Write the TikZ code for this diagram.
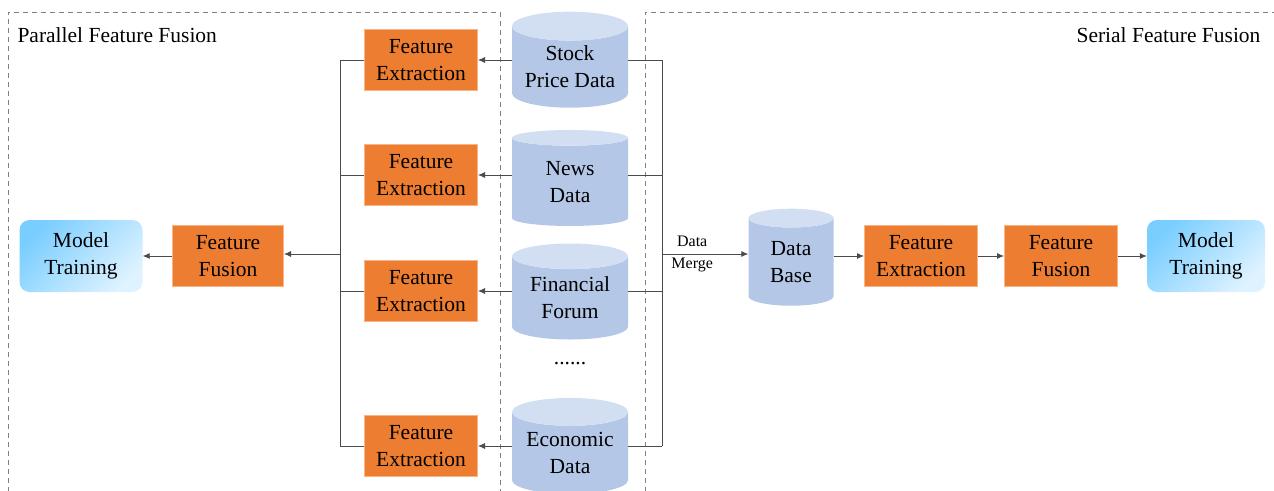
\documentclass[tikz,border=0pt]{standalone}
\usepackage{fontspec}
\setmainfont{Liberation Serif}
\newfontfamily\diagfont{Liberation Serif}
\usetikzlibrary{shapes.geometric,arrows.meta}

\definecolor{boxorange}{RGB}{237,125,49}
\definecolor{edgeorange}{RGB}{248,180,135}
\definecolor{cylbody}{RGB}{180,199,231}
\definecolor{cyltop}{RGB}{210,222,241}
\definecolor{mtdark}{RGB}{122,206,255}
\definecolor{mtlight}{RGB}{222,242,255}
\definecolor{linegray}{RGB}{75,75,75}

\tikzset{
  febox/.style={draw=edgeorange, fill=boxorange, line width=1pt, minimum width=113pt, minimum height=61pt, align=center, inner sep=0pt},
  datacyl/.style={cylinder, shape border rotate=90, aspect=0.32, cylinder uses custom fill, cylinder body fill=cylbody, cylinder end fill=cyltop, minimum width=116pt, minimum height=96pt, align=center, inner sep=0pt},
  mtbox/.style={rounded corners=10pt, top color=mtdark, bottom color=mtlight, shading angle=45, minimum width=120pt, minimum height=72pt, align=center},
  conn/.style={draw=linegray, line width=0.8pt},
  arr/.style={conn, -{Latex[length=7pt,width=6pt]}},
  region/.style={draw=gray, line width=0.8pt, dash pattern=on 5pt off 4pt},
  mlabel/.style={font=\diagfont\fontsize{16}{22}\selectfont, align=center, inner sep=0pt},
}

\begin{document}
\begin{tikzpicture}[x=1pt, y=-1pt, every node/.style={font=\diagfont\fontsize{21.5}{27}\selectfont}]
\useasboundingbox (0,0) rectangle (1274,490);

\draw[region] (8,492) -- (8,12) -- (500,12) -- (500,492);
\draw[region] (645,492) -- (645,12) -- (1276,12);
\node[anchor=west] (ptitle) at (14,35) {Parallel Feature Fusion};
\node[anchor=east] (stitle) at (1264,35) {Serial Feature Fusion};

\node[datacyl] (src1) at (570,67) {Stock\\Price Data};
\node[datacyl] (src2) at (570,182) {News\\Data};
\node[datacyl] (src3) at (570,298) {Financial\\Forum};
\node (dots) at (570,364) {......};
\node[datacyl] (src4) at (570,453) {Economic\\Data};

\node[febox] (fe1) at (421,60) {Feature\\Extraction};
\node[febox] (fe2) at (421,175) {Feature\\Extraction};
\node[febox] (fe3) at (421,291) {Feature\\Extraction};
\node[febox] (fe4) at (421,446) {Feature\\Extraction};

\node[febox, minimum width=111pt] (ffl) at (228,256) {Feature\\Fusion};
\node[mtbox, minimum width=123pt] (mtl) at (81,256) {Model\\Training};

\coordinate (split) at (340,254);
\coordinate (merge) at (662,254);

\node[datacyl, minimum width=85pt, minimum height=97pt, aspect=0.45] (db) at (791,262) {Data\\Base};
\node[febox] (fer) at (921,256) {Feature\\Extraction};
\node[febox] (ffr) at (1061,256) {Feature\\Fusion};
\node[mtbox, minimum width=118pt] (mtr) at (1206,256) {Model\\Training};

\foreach \i in {1,...,4}{
  \draw[arr] (src\i.west |- fe\i.east) -- (fe\i.east);
  \draw[conn] (src\i.east |- fe\i.east) -- (fe\i.east -| merge);
  \draw[conn] (fe\i.west) -- (fe\i.west -| split);
}
\draw[conn] (fe1.west -| split) -- (fe4.west -| split);
\draw[conn] (fe1.east -| merge) -- (fe4.east -| merge);
\draw[arr] (split) -- (split -| ffl.east);
\draw[arr] (ffl.west) -- (ffl.west -| mtl.east);

\draw[arr] (merge) -- node[mlabel, pos=0.35] {Data\\Merge} (merge -| db.west);
\draw[arr] (db.east |- fer.west) -- (fer.west);
\draw[arr] (fer.east) -- (ffr.west);
\draw[arr] (ffr.east) -- (mtr.west);
\end{tikzpicture}
\end{document}
